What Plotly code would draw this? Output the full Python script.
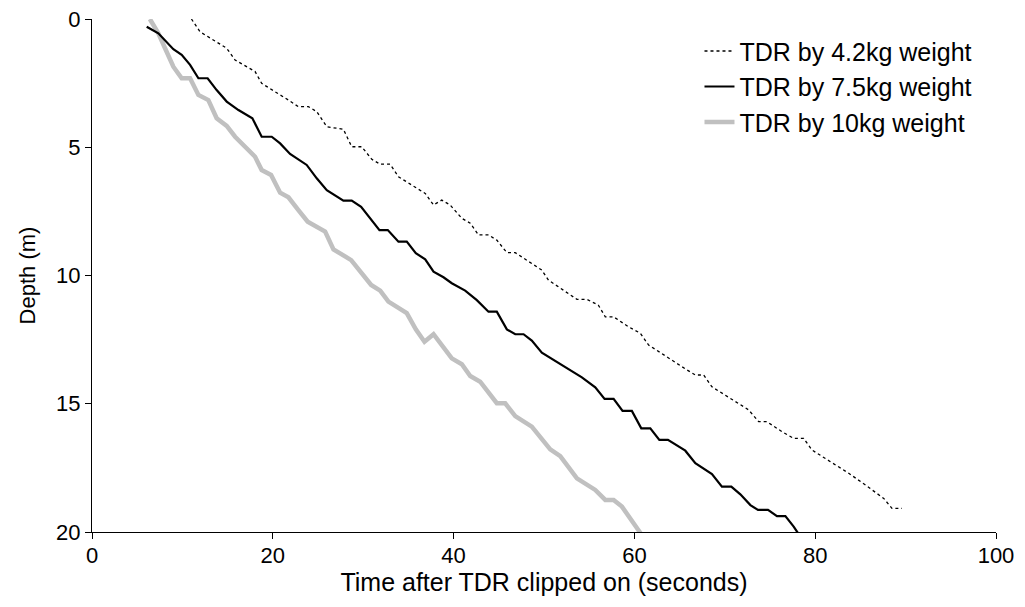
import plotly.graph_objects as go

# TDR by 4.2kg weight (dotted)
t_42 = [11.0, 11.95, 14.9, 15.83, 18.04, 18.77, 21.73, 22.83, 23.94, 24.86, 25.97, 27.81,
        28.73, 29.84, 30.95, 31.88, 32.98, 33.9, 36.86, 37.78, 38.69, 39.62, 40.91, 41.84,
        42.76, 43.86, 44.78, 45.89, 46.82, 47.74, 49.76, 50.5, 51.6, 52.7, 53.64, 54.74,
        56.0, 56.78, 57.7, 59.35, 60.65, 61.57, 62.68, 64.7, 65.81, 66.74, 67.66, 68.58,
        70.61, 72.64, 73.75, 74.67, 76.33, 77.62, 78.72, 79.64, 81.68, 83.71, 85.56, 87.58,
        88.5, 89.6]
d_42 = [0.0, 0.50, 1.14, 1.60, 2.05, 2.51, 3.16, 3.42, 3.42, 3.61, 4.20, 4.30,
        4.98, 4.98, 5.47, 5.66, 5.66, 6.15, 6.80, 7.25, 7.06, 7.25, 7.77, 7.96,
        8.42, 8.42, 8.62, 9.11, 9.11, 9.33, 9.79, 10.18, 10.44, 10.69, 10.93, 10.93,
        11.15, 11.61, 11.61, 12.0, 12.25, 12.71, 12.97, 13.42, 13.68, 13.88, 13.88, 14.34,
        14.79, 15.24, 15.70, 15.70, 16.09, 16.35, 16.35, 16.80, 17.26, 17.71, 18.17, 18.69,
        19.08, 19.08]

# TDR by 7.5kg weight (solid black)
t_75 = [6.05, 7.34, 9.0, 9.92, 10.85, 11.77, 12.79, 13.79, 14.9, 16.2, 17.74, 18.77,
        19.88, 20.81, 21.91, 23.75, 24.86, 25.97, 27.81, 28.73, 29.77, 30.77, 31.8, 32.72,
        33.9, 34.82, 35.82, 36.86, 37.78, 38.88, 39.8, 41.28, 42.57, 43.86, 44.78, 45.89,
        46.82, 47.74, 48.65, 49.76, 51.98, 54.19, 55.67, 56.7, 57.7, 58.69, 59.72, 60.76,
        61.76, 62.76, 63.71, 65.63, 66.74, 68.58, 69.68, 70.72, 71.72, 72.83, 73.67, 74.78,
        75.77, 76.7, 77.62, 78.36]
d_75 = [0.30, 0.56, 1.18, 1.40, 1.79, 2.31, 2.31, 2.77, 3.22, 3.55, 3.87, 4.59,
        4.59, 4.85, 5.26, 5.69, 6.21, 6.67, 7.08, 7.08, 7.32, 7.77, 8.23, 8.23,
        8.68, 8.68, 9.13, 9.37, 9.85, 10.07, 10.30, 10.59, 10.96, 11.41, 11.41, 12.10,
        12.29, 12.29, 12.54, 13.01, 13.49, 13.97, 14.36, 14.81, 14.81, 15.28, 15.28, 15.96,
        15.96, 16.41, 16.41, 16.83, 17.32, 17.74, 18.23, 18.23, 18.53, 18.95, 19.14, 19.14,
        19.38, 19.38, 19.79, 20.18]

# TDR by 10kg weight (thick grey)
t_10 = [6.4, 7.34, 8.08, 9.0, 9.92, 10.85, 11.77, 12.87, 13.79, 14.9, 15.83, 16.93,
        18.04, 18.77, 19.81, 20.81, 21.73, 22.83, 23.86, 25.79, 26.71, 28.67, 29.77, 30.88,
        31.88, 32.79, 34.82, 35.82, 36.78, 37.78, 39.8, 40.91, 41.84, 42.94, 44.78, 45.71,
        46.82, 48.65, 50.69, 51.8, 53.64, 55.67, 56.78, 57.7, 58.62, 59.55, 60.65, 61.0]
d_10 = [0.0, 0.56, 1.14, 1.86, 2.31, 2.31, 2.96, 3.16, 3.87, 4.17, 4.59, 4.98,
        5.37, 5.89, 6.08, 6.77, 6.95, 7.45, 7.90, 8.29, 8.98, 9.40, 9.91, 10.37,
        10.59, 11.02, 11.47, 12.10, 12.58, 12.29, 13.23, 13.46, 13.92, 14.14, 14.98, 14.98,
        15.48, 15.89, 16.78, 17.04, 17.91, 18.36, 18.75, 18.75, 19.01, 19.47, 20.03, 20.3]

x_ticks = [0, 20, 40, 60, 80, 100]
y_ticks = [0, 5, 10, 15, 20]

FONT = "Liberation Sans, Arial, sans-serif"

fig = go.Figure()
fig.add_trace(go.Scatter(x=t_10, y=d_10, mode="lines", name="TDR by 10kg weight",
                         line=dict(color="#C0C0C0", width=4.5), legendrank=3))
fig.add_trace(go.Scatter(x=t_75, y=d_75, mode="lines", name="TDR by 7.5kg weight",
                         line=dict(color="#000000", width=2.2), legendrank=2))
fig.add_trace(go.Scatter(x=t_42, y=d_42, mode="lines", name="TDR by 4.2kg weight",
                         line=dict(color="#000000", width=1.3, dash="dot"), legendrank=1))

fig.update_layout(
    width=1025, height=607,
    margin=dict(l=92, r=29, t=19, b=75, autoexpand=False),
    paper_bgcolor="white", plot_bgcolor="white",
    font=dict(family=FONT, color="#000000", size=22),
    showlegend=True,
    legend=dict(x=0.672, y=0.982, xanchor="left", yanchor="top",
                font=dict(family=FONT, size=25, color="#000000"),
                bgcolor="rgba(0,0,0,0)", tracegroupgap=0),
    xaxis=dict(range=[0, 100], tickvals=x_ticks, ticks="outside", ticklen=6,
               tickcolor="black", showline=True, linecolor="black", linewidth=1.2,
               showgrid=False, zeroline=False, tickfont=dict(size=22), automargin=False,
               ticklabelstandoff=-3,
               title=dict(text="Time after TDR clipped on (seconds)", font=dict(size=25),
                          standoff=4)),
    yaxis=dict(range=[20, 0], tickvals=y_ticks, ticks="outside", ticklen=6,
               tickcolor="black", showline=True, linecolor="black", linewidth=1.2,
               showgrid=False, zeroline=False, tickfont=dict(size=22), automargin=False,
               title=dict(text="Depth (m)", font=dict(size=22), standoff=14)),
)

fig.write_html("out.html")
